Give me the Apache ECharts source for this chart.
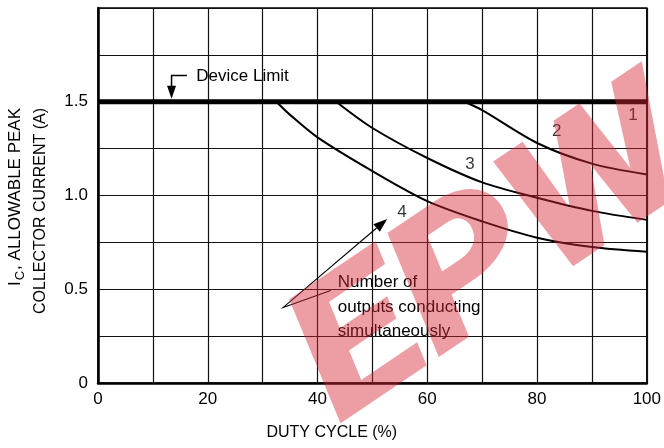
<!DOCTYPE html>
<html>
<head>
<meta charset="utf-8">
<script src="https://cdn.jsdelivr.net/npm/echarts@6/dist/echarts.min.js"></script>
<style>
html,body{margin:0;padding:0;background:#fff;}
#c{width:664px;height:448px;}
</style>
</head>
<body>
<div id="c"></div>
<script>
// ---- data ----
const xTickLabels = [0, 20, 40, 60, 80, 100];
const yTickLabels = ['0', '0.5', '1.0', '1.5'];
const deviceLimit = [[0, 1.5], [100, 1.5]];
const curve2 = [[66.8,1.5],[70,1.455],[80,1.28],[90,1.17],[100,1.112]];
const curve3 = [[43.4,1.5],[50,1.36],[60,1.2],[70,1.07],[80,0.988],[90,0.918],[100,0.87]];
const curve4 = [[32.5,1.5],[35,1.43],[40,1.31],[50,1.13],[60,0.97],[70,0.862],[80,0.775],[90,0.725],[100,0.70]];
const curveLabels = [['1',97.5,1.43],['2',83.6,1.34],['3',67.8,1.167],['4',55.4,0.912]];
const deviceLimitText = 'Device Limit';
const noteLines = ['Number of', 'outputs conducting', 'simultaneously'];

// ---- font detection ----
function hasFont(name){
  const c=document.createElement('canvas').getContext('2d');
  c.font='40px monospace'; const a=c.measureText('COLLECTOR CURRENT 0123').width;
  c.font='40px "'+name+'", monospace'; const b=c.measureText('COLLECTOR CURRENT 0123').width;
  return Math.abs(a-b)>0.5;
}
const narrow = hasFont('Liberation Sans Narrow');
const FONT = narrow ? '"Liberation Sans Narrow", "Liberation Sans", Arial, sans-serif' : '"Liberation Sans", Arial, sans-serif';
const FS = narrow ? 18 : 16;

const chart = echarts.init(document.getElementById('c'), null, {renderer:'canvas'});

function curveSeries(d){
  return {type:'line', data:d, symbol:'none', smooth:0.3,
    lineStyle:{color:'#000', width:2}, z:3, silent:true};
}

chart.setOption({
  animation:false,
  backgroundColor:'#fff',
  grid:{left:98, right:12, top:8, bottom:65, show:true, borderColor:'#000', borderWidth:1.5},
  xAxis:{type:'value', min:0, max:100, interval:10,
    axisLine:{show:true, lineStyle:{color:'#000', width:2.5}},
    axisTick:{show:false},
    splitLine:{show:true, lineStyle:{color:'#111', width:1.2}},
    axisLabel:{margin:8, color:'#000', fontFamily:FONT, fontSize:FS+1,
      formatter:v=> xTickLabels.indexOf(v)>=0 ? String(v) : ''}},
  yAxis:{type:'value', min:0, max:2, interval:0.25,
    axisLine:{show:true, lineStyle:{color:'#000', width:2.5}},
    axisTick:{show:false},
    splitLine:{show:true, lineStyle:{color:'#111', width:1.2}},
    axisLabel:{margin:10, color:'#000', fontFamily:FONT, fontSize:FS+1,
      formatter:v=>{ const s = v===0 ? '0' : v.toFixed(1); return yTickLabels.indexOf(s)>=0 && Math.abs(v*2-Math.round(v*2))<1e-9 ? s : ''; }}},
  series:[
    {type:'line', data:deviceLimit, symbol:'none', lineStyle:{color:'#000', width:5}, z:4, silent:true},
    curveSeries(curve2), curveSeries(curve3), curveSeries(curve4),
    {type:'scatter', data:curveLabels.map(l=>({name:l[0], value:[l[1], l[2]]})), symbolSize:0, z:5,
      label:{show:true, position:'inside', formatter:p=>p.name, color:'#000', fontFamily:FONT, fontSize:FS+1}}
  ]
});

function px(x,y){ return chart.convertToPixel({gridIndex:0}, [x,y]); }
function arrowHead(tip, from, len, half){
  const dx=tip[0]-from[0], dy=tip[1]-from[1], L=Math.hypot(dx,dy), ux=dx/L, uy=dy/L;
  const bx=tip[0]-ux*len, by=tip[1]-uy*len;
  return [tip, [bx-uy*half, by+ux*half], [bx+uy*half, by-ux*half]];
}

const dlA = px(16.2,1.64), dlB = px(13.4,1.64), dlTip = px(13.4,1.5);
dlTip[1] -= 3;
const nV = px(33.75,0.403), nLow = px(42.4,0.493), nTip = px(52.7,0.875);
const dlTextPos = px(17.9,1.634);
const notePos = px(43.7,0.536);
const xTitlePos = px(42.6, 0);

chart.setOption({
  graphic:[
    {type:'polyline', shape:{points:[dlA, dlB, [dlB[0], dlTip[1]-10]]}, style:{stroke:'#000', lineWidth:1.5, fill:null}, z:10},
    {type:'polygon', shape:{points:arrowHead(dlTip,[dlB[0],dlB[1]],13,4.5)}, style:{fill:'#000'}, z:10},
    {type:'text', x:dlTextPos[0], y:dlTextPos[1], style:{text:deviceLimitText, fill:'#000', font:(FS+1)+'px '+FONT, textAlign:'left', textVerticalAlign:'middle'}, z:10},
    {type:'polyline', shape:{points:[nLow, nV, arrowHead(nTip,nV,14,0)[1]]}, style:{stroke:'#000', lineWidth:1.1, fill:null}, z:10},
    {type:'polygon', shape:{points:arrowHead(nTip,nV,14,5)}, style:{fill:'#000'}, z:10},
    {type:'text', x:notePos[0], y:notePos[1]-12, style:{text:noteLines.join('\n'), fill:'#000', font:(FS+1)+'px '+FONT, lineHeight:24.5, textAlign:'left', textVerticalAlign:'top'}, z:10},
    {type:'text', x:xTitlePos[0], y:433, style:{text:'DUTY CYCLE (%)', fill:'#000', font:FS+'px '+FONT, textAlign:'center', textVerticalAlign:'middle'}, z:10},
    {type:'text', x:15, y:108, rotation:Math.PI/2,
      style:{text:'{n|I}{s|C}{n|, ALLOWABLE PEAK}', textAlign:'right', textVerticalAlign:'middle',
        rich:{n:{fontFamily:FONT, fontSize:FS+1, fill:'#000'}, s:{fontFamily:FONT, fontSize:Math.round(FS*0.8), fill:'#000', verticalAlign:'bottom', padding:[10,1,0,1]}}}, z:10},
    {type:'text', x:41, y:108, rotation:Math.PI/2,
      style:{text:'COLLECTOR CURRENT (A)', fill:'#000', font:FS+'px '+FONT, textAlign:'right', textVerticalAlign:'middle'}, z:10},
    {type:'text', x:497, y:262, rotation:34*Math.PI/180, scaleX:1.18,
      style:{text:'EPW', fill:'rgba(215,40,55,0.45)', fontFamily:'Roboto, Lato, Inter, sans-serif', fontWeight:900, fontStyle:'italic', fontSize:185, textAlign:'center', textVerticalAlign:'middle'}, z:50, silent:true}
  ]
});
</script>
</body>
</html>
